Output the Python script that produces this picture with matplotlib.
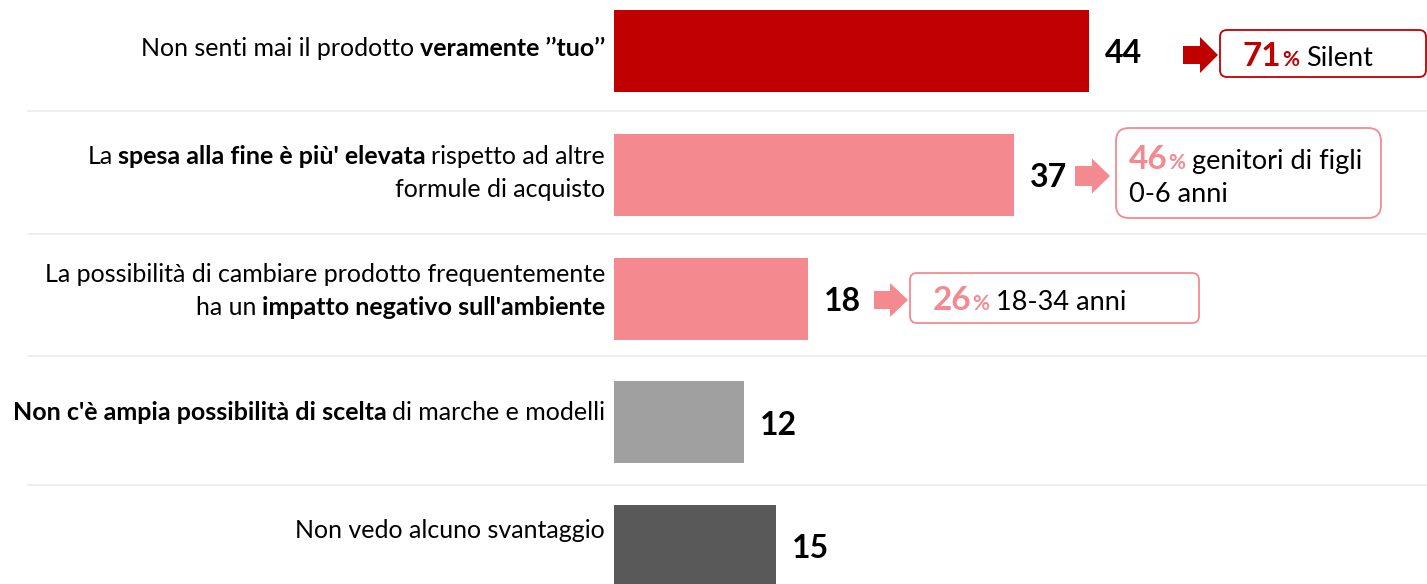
import matplotlib
matplotlib.use("Agg")
import matplotlib.pyplot as plt
from matplotlib.patches import FancyBboxPatch, Polygon
from matplotlib.offsetbox import TextArea, HPacker, VPacker, AnnotationBbox
from matplotlib.transforms import Affine2D
from matplotlib.lines import Line2D

# ---------------- data ----------------
# category labels: list of lines, each line a list of (text, bold) segments
cat_labels = [
    [[("Non senti mai il prodotto", False), ("veramente ’’tuo’’", True)]],
    [[("La", False), ("spesa alla fine è più' elevata", True), ("rispetto ad altre", False)],
     [("formule di acquisto", False)]],
    [[("La possibilità di cambiare prodotto frequentemente", False)],
     [("ha un", False), ("impatto negativo sull'ambiente", True)]],
    [[("Non c'è ampia possibilità di scelta", True), ("di marche e modelli", False)]],
    [[("Non vedo alcuno svantaggio", False)]],
]
values = [44, 37, 18, 12, 15]
callout_pcts = [71, 46, 26]
callout_texts = [["Silent"], ["genitori di figli", "0-6 anni"], ["18-34 anni"]]

# ---------------- style / layout ----------------
W, H = 1427, 584
RED = "#C00000"
PINK = "#F4898F"
bar_colors = [RED, PINK, PINK, "#A0A0A0", "#595959"]
callout_colors = [RED, PINK, PINK]
FONT = "Lato"
LABEL_FS = 18.0
VALUE_FS = 23
PCT_FS = 24
PCTSIGN_FS = 15
CALL_FS = 19.5

fig = plt.figure(figsize=(W / 100, H / 100), dpi=100)
ax = fig.add_axes([0, 0, 1, 1])
PX_PER_UNIT = 10.8
X0 = 614
ROW = 123.75
Y0 = 51
ax.set_xlim(-X0 / PX_PER_UNIT, (W - X0) / PX_PER_UNIT)
ax.set_ylim((H - Y0) / ROW, -Y0 / ROW)
ax.axis("off")

# pixel transform (origin top-left)
T = Affine2D().scale(1 / W, -1 / H).translate(0, 1) + fig.transFigure

ypos = list(range(len(values)))
ax.barh(ypos, values, height=82 / ROW, color=bar_colors, zorder=2)

# separators
for py in [111, 234, 356, 485]:
    ax.add_line(Line2D([28, W], [py, py], transform=T, color="#EBEBEB", lw=1.2, zorder=1))

# category labels
label_cy = [49, 173, 291, 412, 530]


def seg_line(segs, fs, color="black"):
    children = [TextArea(t, textprops=dict(fontsize=fs, family=FONT, color=color,
                                           fontweight="bold" if b else "normal"))
                for t, b in segs]
    return HPacker(children=children, align="baseline", pad=0, sep=0.22 * fs)


for lines, cy in zip(cat_labels, label_cy):
    packs = [seg_line(l, LABEL_FS) for l in lines]
    box = VPacker(children=packs, align="right", pad=0, sep=7.5)
    ab = AnnotationBbox(box, (605, cy), xycoords=T, box_alignment=(1, 0.5),
                        frameon=False, pad=0)
    ax.add_artist(ab)

# value labels
for i, v in enumerate(values):
    ax.annotate(str(v), xy=(v, i), xytext=(11.5, -2), textcoords="offset points",
                ha="left", va="center", fontsize=VALUE_FS, fontweight="bold",
                family=FONT, color="black")

# arrows (pixel coords): x_start, x_head, x_tip, cy, shaft half, head half
arrows = [(1183, 1200, 1218, 55, 9, 18),
          (1075, 1092, 1110, 176, 10, 17.5),
          (874, 890, 908, 300, 9, 17)]
for (xs, xh, xt, cy, sh, hh), c in zip(arrows, callout_colors):
    pts = [(xs, cy - sh), (xh, cy - sh), (xh, cy - hh), (xt, cy), (xh, cy + hh),
           (xh, cy + sh), (xs, cy + sh)]
    ax.add_patch(Polygon(pts, closed=True, transform=T, facecolor=c, edgecolor="none"))

# callout boxes (pixel coords): x0, y0, x1, y1, radius
boxes = [(1220, 30, 1426, 77, 7), (1116, 128, 1381, 218, 13), (910, 273, 1199, 323, 7)]
for (x0, y0, x1, y1, r), c in zip(boxes, callout_colors):
    ax.add_patch(FancyBboxPatch((x0, y0), x1 - x0, y1 - y0,
                                boxstyle=f"round,pad=0,rounding_size={r}",
                                transform=T, facecolor="white", edgecolor=c, lw=1.3))

# callout texts
text_pos = [(1243, 57), (1129, 176), (933, 300)]
for pct, lines, c, (tx, ty) in zip(callout_pcts, callout_texts, callout_colors, text_pos):
    first = HPacker(children=[
        HPacker(children=[
            TextArea(str(pct), textprops=dict(fontsize=PCT_FS, family=FONT, fontweight="bold", color=c)),
            TextArea("%", textprops=dict(fontsize=PCTSIGN_FS, family=FONT, fontweight="bold", color=c)),
        ], align="baseline", pad=0, sep=0.5),
        TextArea(lines[0], textprops=dict(fontsize=CALL_FS, family=FONT, color="black")),
    ], align="baseline", pad=0, sep=5)
    rows = [first] + [TextArea(l, textprops=dict(fontsize=CALL_FS, family=FONT, color="black"))
                      for l in lines[1:]]
    box = VPacker(children=rows, align="left", pad=0, sep=6)
    ax.add_artist(AnnotationBbox(box, (tx, ty), xycoords=T, box_alignment=(0, 0.5),
                                 frameon=False, pad=0))

fig.savefig("out.png", dpi=100, facecolor="white")
